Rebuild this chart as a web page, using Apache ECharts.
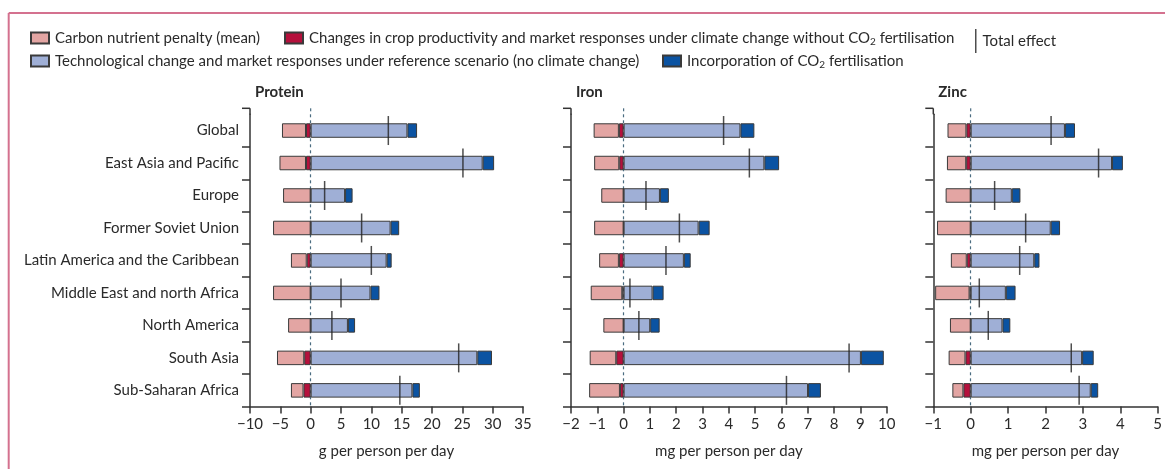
<!DOCTYPE html>
<html>
<head>
<meta charset="utf-8">
<script src="https://cdn.jsdelivr.net/npm/echarts@6/dist/echarts.min.js"></script>
<style>
html,body{margin:0;padding:0;background:#fff;}
#c{width:1165px;height:469px;}
</style>
</head>
<body>
<div id="c"></div>
<script>
const categories = ['Global','East Asia and Pacific','Europe','Former Soviet Union','Latin America and the Caribbean','Middle East and north Africa','North America','South Asia','Sub-Saharan Africa'];

const panelTitles = ['Protein','Iron','Zinc'];
const axisNames = ['g per person per day','mg per person per day','mg per person per day'];
const axisMin = [-10,-2,-1];
const axisMax = [35,10,5];
const axisStep = [5,1,1];

// Protein (g per person per day)
const proteinClimate = [-0.77,-0.77,0,0,-0.65,0,0,-1.06,-1.18];
const proteinPenalty = [-3.96,-4.37,-4.55,-6.2,-2.6,-6.2,-3.72,-4.49,-2.07];
const proteinTech    = [15.95,28.35,5.67,13.17,12.52,9.86,6.14,27.47,16.77];
const proteinCO2     = [1.59,1.89,1.24,1.42,0.83,1.48,1.18,2.42,1.23];
const proteinTotal   = [12.8,25.1,2.3,8.4,10.0,5.0,3.5,24.4,14.7];

// Iron (mg per person per day)
const ironClimate = [-0.18,-0.165,0,0,-0.18,-0.05,0,-0.28,-0.14];
const ironPenalty = [-0.96,-0.955,-0.85,-1.12,-0.75,-1.2,-0.77,-1.01,-1.17];
const ironTech    = [4.44,5.35,1.38,2.85,2.29,1.10,1.01,9.02,7.01];
const ironCO2     = [0.53,0.56,0.34,0.42,0.26,0.42,0.36,0.87,0.49];
const ironTotal   = [3.80,4.78,0.85,2.12,1.61,0.24,0.58,8.57,6.19];

// Zinc (mg per person per day)
const zincClimate = [-0.115,-0.12,0,0,-0.105,-0.03,0,-0.14,-0.195];
const zincPenalty = [-0.505,-0.515,-0.67,-0.90,-0.425,-0.92,-0.555,-0.45,-0.295];
const zincTech    = [2.52,3.78,1.10,2.14,1.70,0.94,0.85,2.98,3.21];
const zincCO2     = [0.27,0.29,0.23,0.25,0.14,0.26,0.21,0.31,0.20];
const zincTotal   = [2.15,3.42,0.64,1.47,1.31,0.23,0.47,2.69,2.90];

const seriesNames = {
  penalty: 'Carbon nutrient penalty (mean)',
  climate: 'Changes in crop productivity and market responses under climate change without CO2 fertilisation',
  tech: 'Technological change and market responses under reference scenario (no climate change)',
  co2: 'Incorporation of CO2 fertilisation',
  total: 'Total effect'
};
const colors = {penalty:'#e3a5a3', climate:'#b5103c', tech:'#9fafd6', co2:'#0b53a2'};

const panels = [
  {climate: proteinClimate, penalty: proteinPenalty, tech: proteinTech, co2: proteinCO2, total: proteinTotal},
  {climate: ironClimate, penalty: ironPenalty, tech: ironTech, co2: ironCO2, total: ironTotal},
  {climate: zincClimate, penalty: zincPenalty, tech: zincTech, co2: zincCO2, total: zincTotal}
];

const FONT = 'Lato';
const TXT = '#2a2a2a';
const gridDefs = [
  {left: 250, width: 273},
  {left: 571, width: 315.7},
  {left: 933.3, width: 226.7}
];
const GRID_TOP = 114.3, GRID_BOTTOM = 62.4;

const minus = v => v < 0 ? '\u2212' + Math.abs(v) : String(v);

const grids = [], xAxes = [], yAxes = [], series = [], titles = [];
panels.forEach((p, i) => {
  grids.push({left: gridDefs[i].left, width: gridDefs[i].width, top: GRID_TOP, bottom: GRID_BOTTOM, containLabel: false});
  xAxes.push({
    type: 'value', gridIndex: i, min: axisMin[i], max: axisMax[i], interval: axisStep[i],
    splitLine: {show: false},
    axisLine: {show: true, lineStyle: {color: '#333', width: 1.5}},
    axisTick: {show: true, length: 7, lineStyle: {color: '#333', width: 1.5}},
    axisLabel: {formatter: minus, color: TXT, fontFamily: FONT, fontSize: 15, margin: 10},
    name: axisNames[i], nameLocation: 'middle', nameGap: 37,
    nameTextStyle: {color: TXT, fontFamily: FONT, fontSize: 15}
  });
  yAxes.push({
    type: 'category', gridIndex: i, data: categories, inverse: true,
    axisLine: {show: true, onZero: false, lineStyle: {color: '#333', width: 1.5}},
    axisTick: {show: true, length: 8, interval: (idx) => idx !== 0, lineStyle: {color: '#333', width: 1.5}},
    axisLabel: {show: i === 0, interval: 0, color: TXT, fontFamily: FONT, fontSize: 15, margin: 11}
  });
  titles.push({text: panelTitles[i], left: gridDefs[i].left, top: 80,
    textStyle: {fontFamily: FONT, fontSize: 15, fontWeight: 'bold', color: TXT}});
  const bar = (key) => ({
    name: seriesNames[key], type: 'bar', stack: 's' + i, xAxisIndex: i, yAxisIndex: i,
    barWidth: 14.5, data: p[key],
    itemStyle: {color: colors[key], borderColor: '#3a3a3a', borderWidth: 1},
    emphasis: {disabled: true}
  });
  const cl = bar('climate');
  cl.markLine = {silent: true, symbol: 'none', label: {show: false},
    lineStyle: {color: '#4a6c80', type: [3, 3], width: 1.2}, data: [{xAxis: 0}], z: 1};
  series.push(cl, bar('tech'), bar('co2'), bar('penalty'));
  series.push({
    name: seriesNames.total, type: 'scatter', xAxisIndex: i, yAxisIndex: i,
    symbol: 'rect', symbolSize: [1.5, 29], z: 10,
    itemStyle: {color: '#222'},
    data: p.total.map((v, k) => [v, k])
  });
});

const legendBase = {
  selectedMode: false, itemWidth: 18, itemHeight: 11, orient: 'horizontal', icon: 'rect',
  textStyle: {fontFamily: FONT, fontSize: 15, color: TXT, lineHeight: 18, padding: [0,0,0,1],
    rich: {sub: {fontSize: 10, lineHeight: 10, verticalAlign: 'bottom', fontFamily: FONT, color: TXT}}},
  formatter: n => n.replace('CO2', 'CO{sub|2}')
};
const legends = [
  Object.assign({}, legendBase, {data: [seriesNames.penalty], left: 25, top: 24}),
  Object.assign({}, legendBase, {data: [seriesNames.climate], left: 279, top: 24}),
  Object.assign({}, legendBase, {data: [seriesNames.total], left: 970, top: 24, itemWidth: 1.5, itemHeight: 24}),
  Object.assign({}, legendBase, {data: [seriesNames.tech], left: 25, top: 47}),
  Object.assign({}, legendBase, {data: [seriesNames.co2], left: 657, top: 47})
];

const chart = echarts.init(document.getElementById('c'), null, {renderer: 'canvas'});
chart.setOption({
  animation: false,
  backgroundColor: '#fff',
  title: titles,
  legend: legends,
  grid: grids, xAxis: xAxes, yAxis: yAxes, series: series
});

// decorative frame and small axis extensions above the first category
const g = [
  {type: 'line', shape: {x1: 8.7, y1: 13, x2: 1165, y2: 13}, style: {stroke: '#d4718f', lineWidth: 2}},
  {type: 'line', shape: {x1: 8.7, y1: 13, x2: 8.7, y2: 469}, style: {stroke: '#d4718f', lineWidth: 2}}
];
panels.forEach((p, i) => {
  const xl = chart.convertToPixel({xAxisIndex: i}, axisMin[i]);
  const x0 = chart.convertToPixel({xAxisIndex: i}, 0);
  g.push({type: 'line', shape: {x1: xl, y1: GRID_TOP - 6, x2: xl, y2: GRID_TOP}, style: {stroke: '#333', lineWidth: 1.5}});
  g.push({type: 'line', shape: {x1: xl - 8, y1: GRID_TOP - 6, x2: xl, y2: GRID_TOP - 6}, style: {stroke: '#333', lineWidth: 1.5}});
  g.push({type: 'line', shape: {x1: x0, y1: GRID_TOP - 6, x2: x0, y2: GRID_TOP}, style: {stroke: '#4a6c80', lineWidth: 1.2, lineDash: [3, 3]}});
});
chart.setOption({graphic: g});
</script>
</body>
</html>
